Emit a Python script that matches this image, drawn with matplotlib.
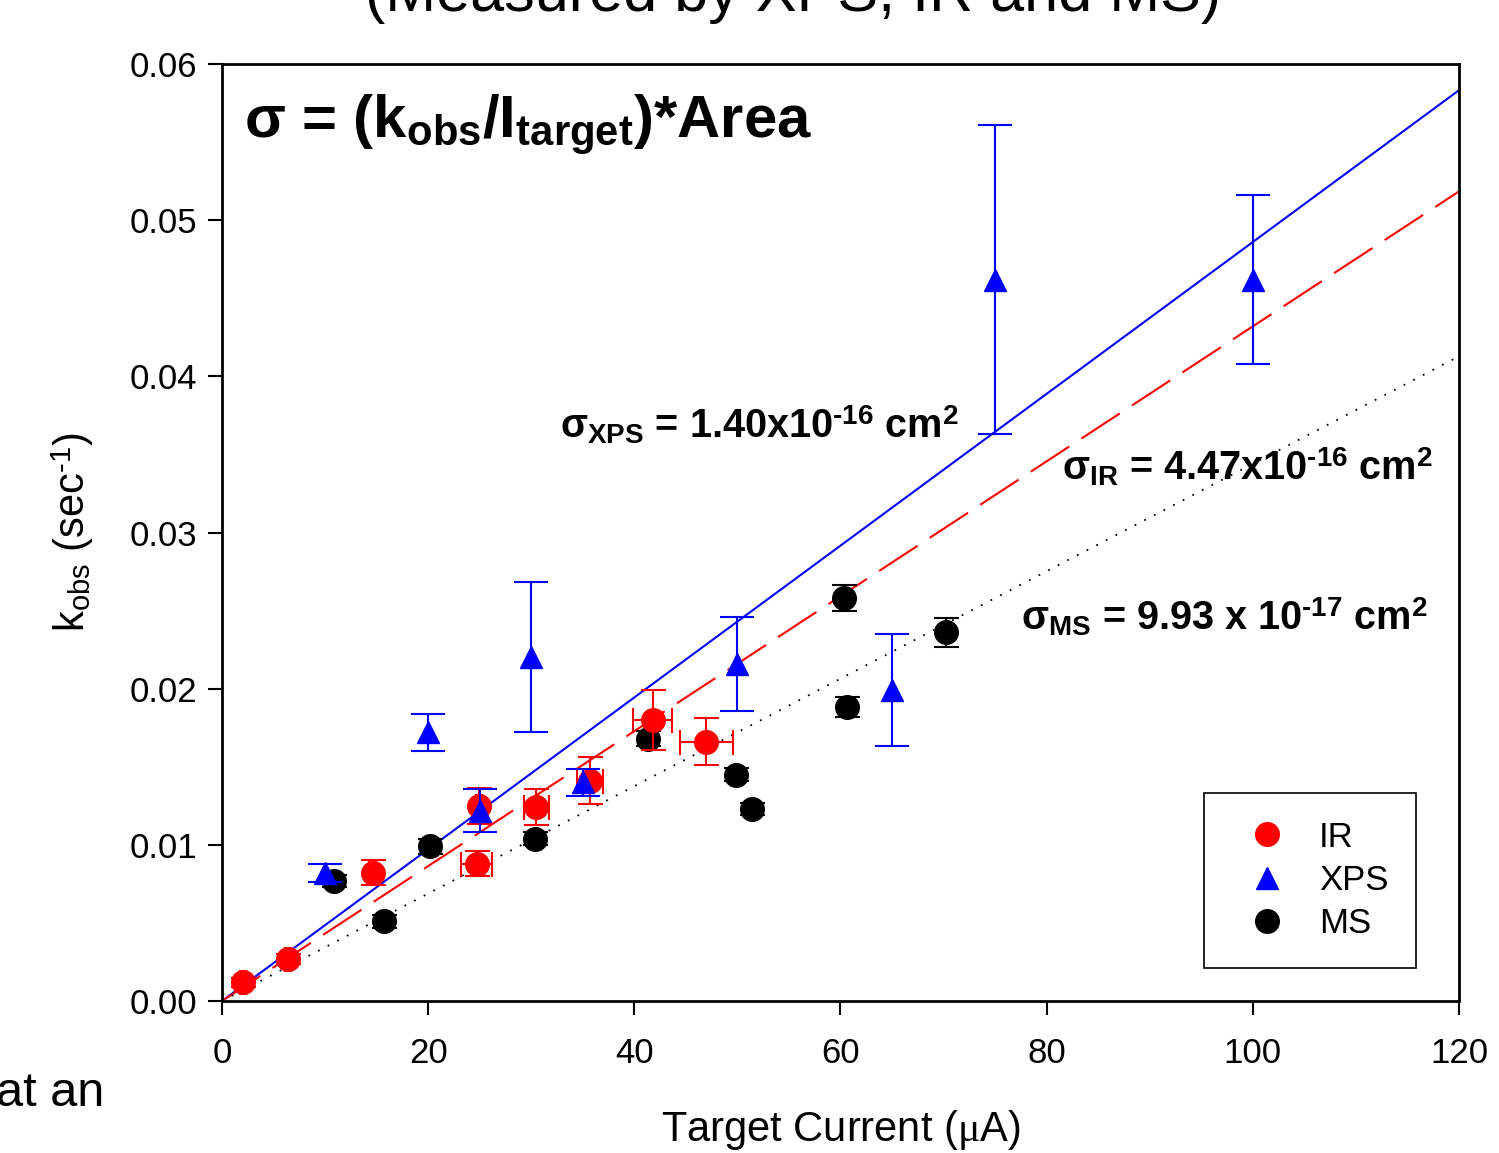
import numpy as np
import matplotlib
matplotlib.use("Agg")
import matplotlib.pyplot as plt
from matplotlib.lines import Line2D

plt.rcParams['font.family'] = ['Liberation Sans', 'DejaVu Sans']
plt.rcParams['mathtext.fontset'] = 'custom'
plt.rcParams['mathtext.rm'] = 'Liberation Sans'
plt.rcParams['mathtext.bf'] = 'Liberation Sans:bold'
plt.rcParams['mathtext.it'] = 'Liberation Serif'

HY = '\u2010'  # plain hyphen, so the exponents don't get a wide minus sign

# IR data
ir_x = [2.0, 6.4, 14.6, 24.7, 24.9, 30.5, 35.7, 41.8, 47.0]
ir_y = [0.0012, 0.0027, 0.0082, 0.0088, 0.0125, 0.0124, 0.0141, 0.0180, 0.0166]
ir_yerr = [0.0003, 0.0003, 0.0008, 0.0008, 0.00115, 0.00115, 0.0015, 0.0019, 0.0015]
ir_xerr = [0.3, 0.3, 0.3, 1.5, 0.3, 1.2, 1.3, 1.9, 2.6]

# XPS data
xps_x = [10, 20, 25, 30, 35, 50, 65, 75, 100]
xps_y = [0.0082, 0.0172, 0.0122, 0.0220, 0.0140, 0.0216, 0.0199, 0.0462, 0.0462]
xps_yerr = [0.0006, 0.0012, 0.0014, 0.0048, 0.00085, 0.0030, 0.0036, 0.0099, 0.0054]

# MS data
ms_x = [10.9, 15.7, 20.2, 30.4, 41.3, 49.9, 51.4, 60.3, 60.6, 70.2]
ms_y = [0.0077, 0.0051, 0.0099, 0.0104, 0.0168, 0.0145, 0.0123, 0.0258, 0.0188, 0.0236]
ms_yerr = [0.0004, 0.0004, 0.0005, 0.0004, 0.0005, 0.0004, 0.0004, 0.00085, 0.00064, 0.0009]

# linear fit slopes (k_obs per uA)
fit_x = np.array([0, 120])
slope_xps = 0.000486
slope_ir = 0.000432
slope_ms = 0.000344

fig = plt.figure(figsize=(14.99, 11.53), dpi=100)
ax = fig.add_axes([0.1481, 0.1318, 0.8252, 0.8127])

ax.plot(fit_x, slope_xps * fit_x, color='blue', lw=1.5, zorder=2)
ax.plot(fit_x, slope_ir * fit_x, color='red', lw=1.5, dashes=(22, 7), zorder=2)
ax.plot(fit_x, slope_ms * fit_x, color='black', lw=1.3, linestyle=(0, (1, 5)), zorder=2)

ax.errorbar(ms_x, ms_y, yerr=ms_yerr, fmt='o', color='black', ms=17,
            capsize=9, elinewidth=1.5, capthick=1.5, zorder=3)
ax.errorbar(ir_x, ir_y, yerr=ir_yerr, xerr=ir_xerr, fmt='o', color='red', ms=17,
            capsize=9, elinewidth=1.5, capthick=1.5, zorder=4)
ax.errorbar(xps_x, xps_y, yerr=xps_yerr, fmt='^', color='blue', ms=16,
            capsize=12, elinewidth=1.5, capthick=1.5, zorder=5)

ax.set_xlim(0, 120)
ax.set_ylim(0, 0.06)
ax.set_xticks([0, 20, 40, 60, 80, 100, 120])
ax.set_yticks([0.0, 0.01, 0.02, 0.03, 0.04, 0.05, 0.06])
ax.set_yticklabels(['0.00', '0.01', '0.02', '0.03', '0.04', '0.05', '0.06'])
ax.tick_params(direction='out', length=10, width=1.5, labelsize=25, pad=8)
ax.tick_params(axis='x', pad=16)
for s in ax.spines.values():
    s.set_linewidth(2)

ax.set_xlabel(r'Target Current ($\mu$A)', fontsize=30, labelpad=27)
ax.set_ylabel(r'k$_{\rm obs}$ (sec$^{\rm ' + HY + '1}$)', fontsize=30, labelpad=24)

ax.text(0.018, 0.935, r'σ = (k$_{\mathbf{obs}}$/I$_{\mathbf{target}}$)*Area',
        transform=ax.transAxes, fontsize=43, fontweight='bold', va='center')
ax.text(32.8, 0.0369, r'σ$_{\mathbf{XPS}}$ = 1.40x10$^{\mathbf{' + HY + r'16}}$ cm$^{\mathbf{2}}$',
        fontsize=28.5, fontweight='bold', va='center')
ax.text(81.5, 0.0342, r'σ$_{\mathbf{IR}}$ = 4.47x10$^{\mathbf{' + HY + r'16}}$ cm$^{\mathbf{2}}$',
        fontsize=28.5, fontweight='bold', va='center')
ax.text(77.5, 0.0246, r'σ$_{\mathbf{MS}}$ = 9.93 x 10$^{\mathbf{' + HY + r'17}}$ cm$^{\mathbf{2}}$',
        fontsize=28.5, fontweight='bold', va='center')

handles = [Line2D([], [], marker='o', color='red', ls='none', ms=17),
           Line2D([], [], marker='^', color='blue', ls='none', ms=16),
           Line2D([], [], marker='o', color='black', ls='none', ms=17)]
leg = ax.legend(handles, ['IR', 'XPS', 'MS'], loc='lower left',
                bbox_to_anchor=(0.794, 0.035), borderaxespad=0, fontsize=25,
                frameon=True, fancybox=False, edgecolor='black', framealpha=1,
                borderpad=0.8, handletextpad=0.5, labelspacing=0.3)
leg.get_frame().set_linewidth(1.2)

fig.text(0.529, 1.004, '(Measured by XPS, IR and MS)', fontsize=44,
         ha='center', va='center')
fig.text(-0.003, 0.052, 'at an', fontsize=35, ha='left', va='center')

fig.savefig('out.png', dpi=100)
